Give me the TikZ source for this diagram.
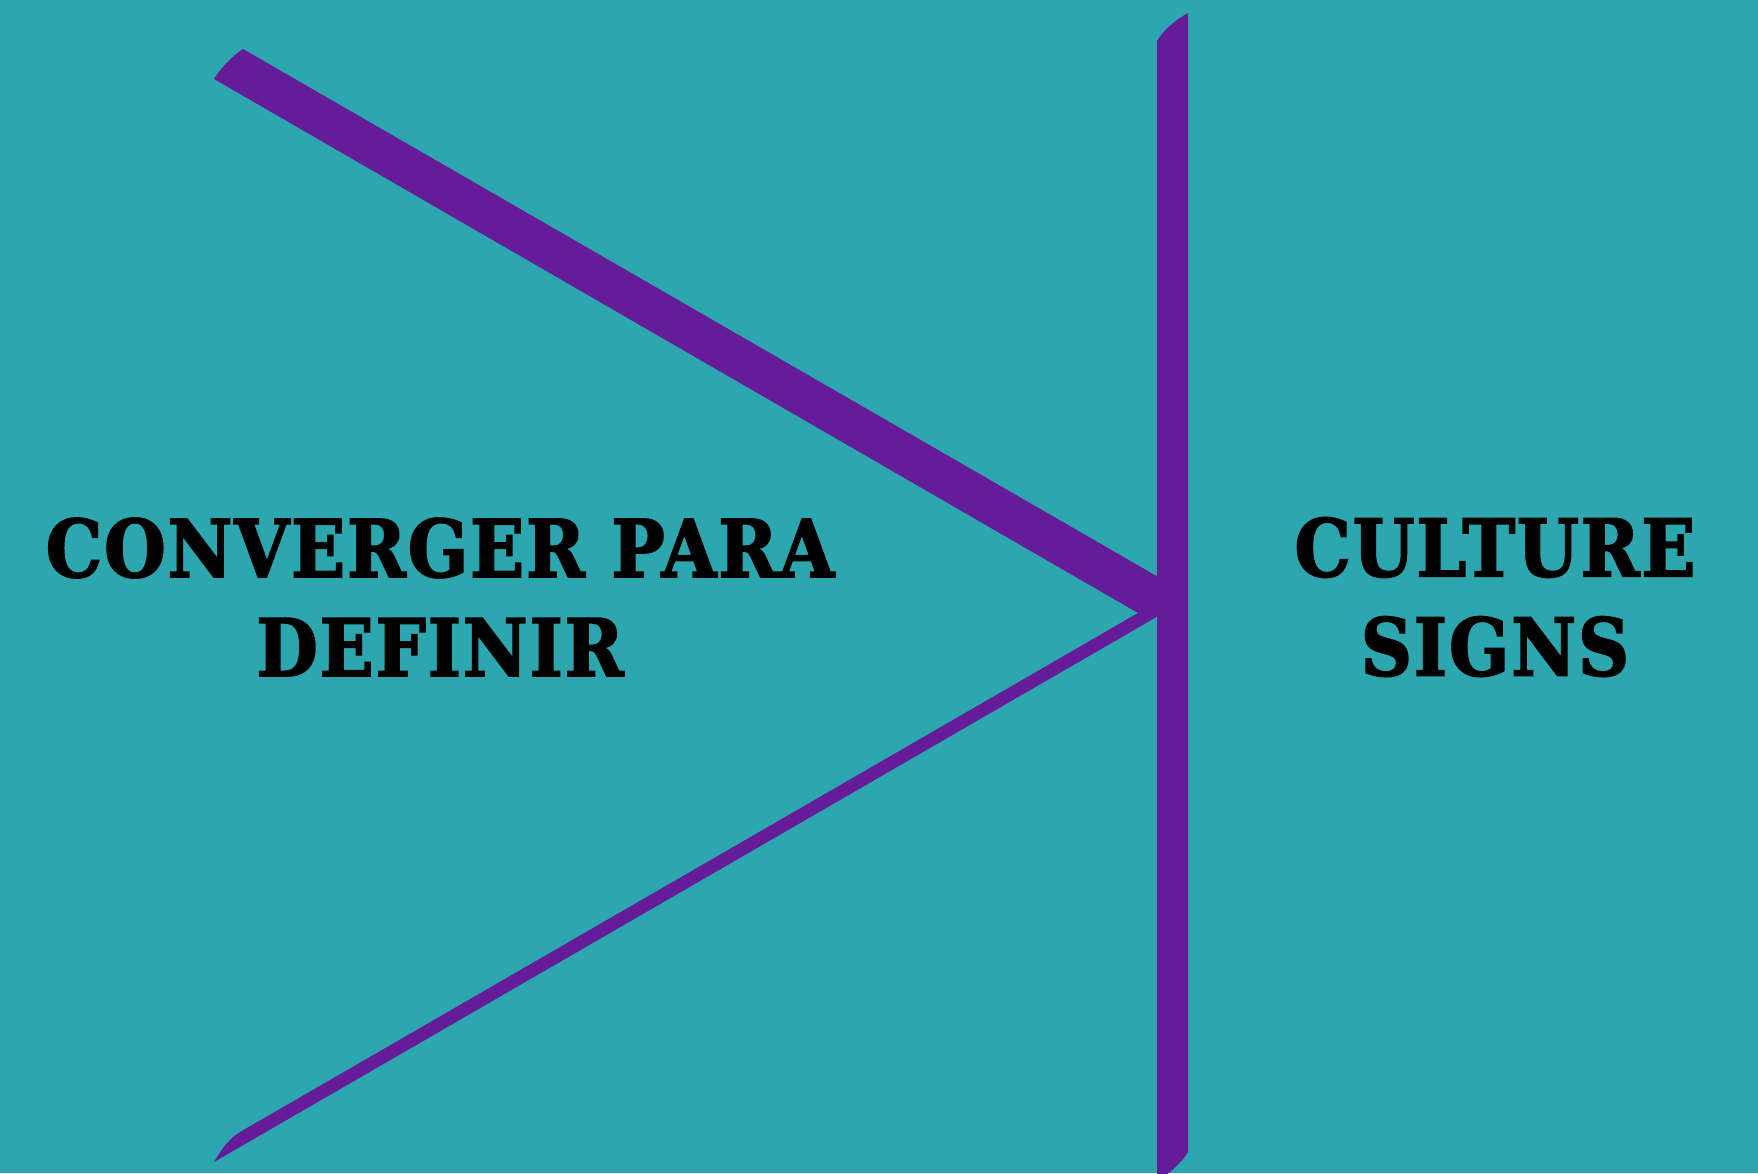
\documentclass[tikz,border=0pt]{standalone}
\usepackage{fontspec}
\setmainfont{DejaVu Serif}[BoldFeatures={FakeBold=2.2,FakeStretch=0.89,LetterSpace=2.5}]
\usepackage{tikz}
\definecolor{fundo}{RGB}{44,166,175}
\definecolor{roxo}{RGB}{102,27,152}
\tikzset{
  titulo/.style={align=center,text=black,font=\bfseries\fontsize{22.6}{28.2}\selectfont}
}

\begin{document}
\begin{tikzpicture}[x=0.01cm,y=-0.01cm]
      \useasboundingbox (0,0) rectangle (1758,1173);
      \clip (0,0) rectangle (1758,1173);
      \fill[fundo] (0,0) rectangle (1758,1173);
      % as duas hastes que convergem
      \fill[roxo] (243,49) -- (1160,578) -- (1160,615) -- (214,1162)
            .. controls (222,1148) and (230,1138) .. (240,1132) -- (1138,613) -- (214,79)
            .. controls (220,69) and (232,56) .. (243,49) -- cycle;
      % barra vertical
      \fill[roxo] (1157,41) .. controls (1162,32) and (1175,20) .. (1188,13) -- (1188,1152)
            .. controls (1183,1161) and (1170,1173) .. (1157,1182) -- cycle;
      \node[titulo] (converger) at (440,597) {CONVERGER PARA\\DEFINIR};
      \node[titulo] (culture) at (1495,597) {CULTURE\\SIGNS};
    \end{tikzpicture}
\end{document}
